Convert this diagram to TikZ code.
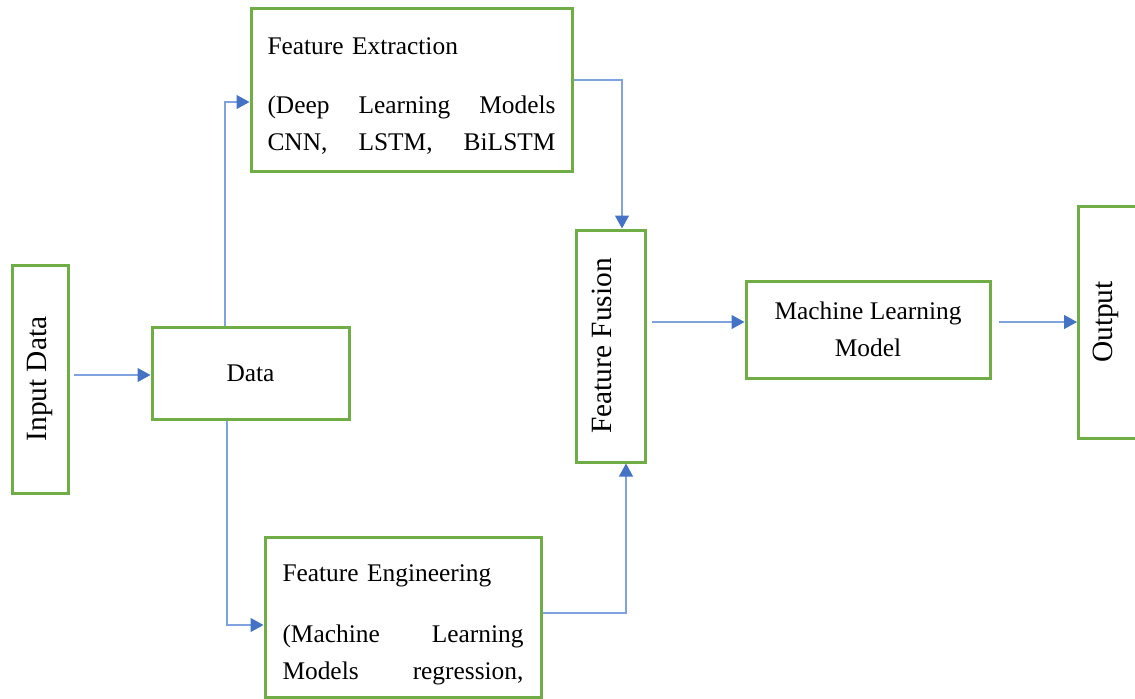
\documentclass[tikz,border=0pt]{standalone}
\usepackage{fontspec}
\setmainfont{Liberation Serif}
\usetikzlibrary{arrows.meta,calc}
\definecolor{boxgreen}{HTML}{70AD47}
\definecolor{lineblue}{HTML}{7FA3DE}
\definecolor{tipblue}{HTML}{4472C4}

\begin{document}
\begin{tikzpicture}[x=0.5pt, y=-0.5pt,
  stage/.style={rectangle, draw=boxgreen, line width=1.5pt,
                font=\fontsize{12.7pt}{18.5pt}\selectfont},
  vstage/.style={rectangle, draw=boxgreen, line width=1.5pt, rotate=90,
                 font=\fontsize{14.7pt}{17pt}\selectfont},
  textbox/.style={stage, align=left, inner ysep=0pt},
  arrow/.style={-{Triangle[length=6.5pt, width=7pt, color=tipblue, fill=tipblue]},
                draw=lineblue, line width=0.6pt}
]
  \useasboundingbox (0,0) rectangle (1135,698);
  \clip (0,0) rectangle (1135,698);

  % Input and data
  \node[vstage, minimum width=114pt, minimum height=28pt] (input) at (40,379) {Input Data};
  \node[stage, minimum width=98.5pt, minimum height=46pt] (data) at (250.5,373) {Data};

  % Two feature branches
  \node[textbox, text width=144pt, inner xsep=8.25pt, minimum height=81.5pt] (fext) at (411.5,89.5)
    {\rule{0pt}{15pt}Feature Extraction\\[11pt]
     (Deep\hfill Learning\hfill Models\\
     CNN,\hfill LSTM,\hfill BiLSTM};
  \node[textbox, text width=120.5pt, inner xsep=8.75pt, minimum height=80pt] (feng) at (403,617)
    {\rule{0pt}{16pt}Feature Engineering\\[12pt]
     (Machine\hfill Learning\\
     Models\hfill regression,};

  % Fusion, model, output (rotated: north = left, east = top)
  \node[vstage, minimum width=116pt, minimum height=34.5pt, text height=10pt, text depth=9pt]
    (fusion) at (610.5,346) {Feature Fusion};
  \node[stage, align=center, minimum width=122pt, minimum height=48.5pt] (ml) at (868,329.5)
    {Machine Learning\\Model};
  \node[vstage, anchor=north, minimum width=116pt, inner ysep=7pt, text height=10.2pt,
        text depth=40pt] (output) at (1077,322) {Output};

  % Connectors
  \draw[arrow, shorten <=2pt] ($(input.south)+(0,-4)$) -- ($(data.west)+(0,2)$);
  \draw[arrow] ($(data.north)+(-25.5,0)$) |- ($(fext.west)+(0,12.5)$);
  \draw[arrow] ($(data.south)+(-23.5,0)$) |- ($(feng.west)+(0,8)$);
  \draw[arrow] ($(fext.east)+(0,-9.5)$) -| ($(fusion.east)+(11.5,0)$);
  \draw[arrow] ($(feng.east)+(0,-4)$) -| ($(fusion.west)+(15.5,0)$);
  \draw[arrow, shorten <=2.5pt] ($(fusion.south)+(0,-24)$) -- ($(ml.west)+(0,-7.5)$);
  \draw[arrow, shorten <=3.5pt] ($(ml.east)+(0,-7.5)$) -- (output.north);
\end{tikzpicture}
\end{document}
